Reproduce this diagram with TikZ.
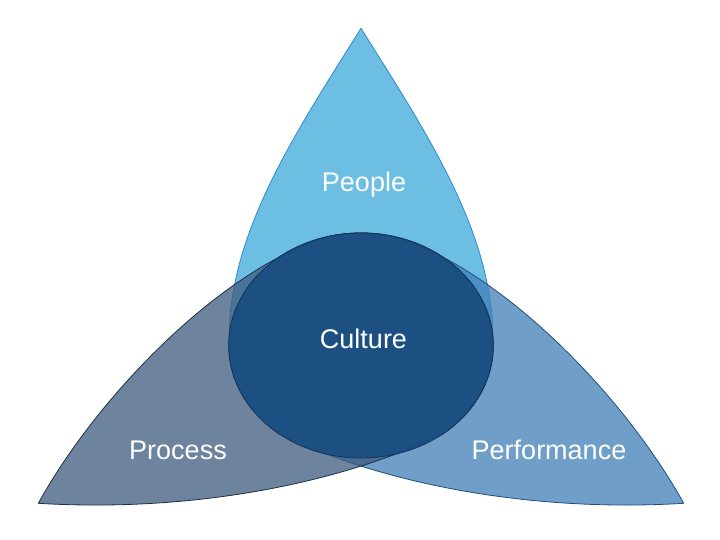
\documentclass[tikz,border=0pt]{standalone}
\usepackage{fontspec}
\setmainfont{Liberation Sans}
\definecolor{topfill}{RGB}{62,170,219}
\definecolor{topline}{RGB}{48,138,206}
\definecolor{leftfill}{RGB}{63,92,127}
\definecolor{leftline}{RGB}{28,48,74}
\definecolor{rightfill}{RGB}{65,127,184}
\definecolor{rightline}{RGB}{34,78,128}
\definecolor{circfill}{RGB}{23,77,129}
\definecolor{circline}{RGB}{20,52,90}
% side petal (left one); the right one is its mirror image about x=361
\newcommand\sidepetal[1]{%
  \path[#1] (38.3,36.7) .. controls (101.3,150.4) and (230,278) .. (333.5,304.5)
    arc[start angle=102, end angle=-52, x radius=132.3, y radius=112.5]
    .. controls (330,52) and (180,28) .. (38.3,36.7) -- cycle;}
\begin{document}
\begin{tikzpicture}[x=1pt,y=1pt,
  petal/.style={fill opacity=0.757, draw opacity=1, line width=0.8pt, line join=round},
  label/.style={text=white, font=\fontsize{27}{32}\selectfont, anchor=base, inner sep=0pt}]
\useasboundingbox (0,0) rectangle (720,540);
\fill[white] (0,0) rectangle (720,540);
% top petal (People)
\path[petal, fill=topfill, draw=topline]
  (361,511.7) .. controls (297.4,410) and (230,310) .. (229.2,204.3)
  arc[start angle=175, end angle=5, x radius=132.3, y radius=112.5]
  .. controls (492,310) and (424.6,410) .. (361,511.7) -- cycle;
% right petal (Performance)
\begin{scope}[shift={(722,0)}, xscale=-1]
  \sidepetal{petal, fill=rightfill, draw=rightline}
\end{scope}
% left petal (Process)
\sidepetal{petal, fill=leftfill, draw=leftline}
% central circle (Culture)
\draw[fill=circfill, fill opacity=0.9, draw=circline, line width=0.8pt]
  (361,194.5) ellipse [x radius=132.3, y radius=112.5];
\node[label] (people) at (364,348.3) {People};
\node[label] (culture) at (363.5,191) {Culture};
\node[label] (process) at (178,80) {Process};
\node[label] (performance) at (549,80) {Performance};
\end{tikzpicture}
\end{document}
